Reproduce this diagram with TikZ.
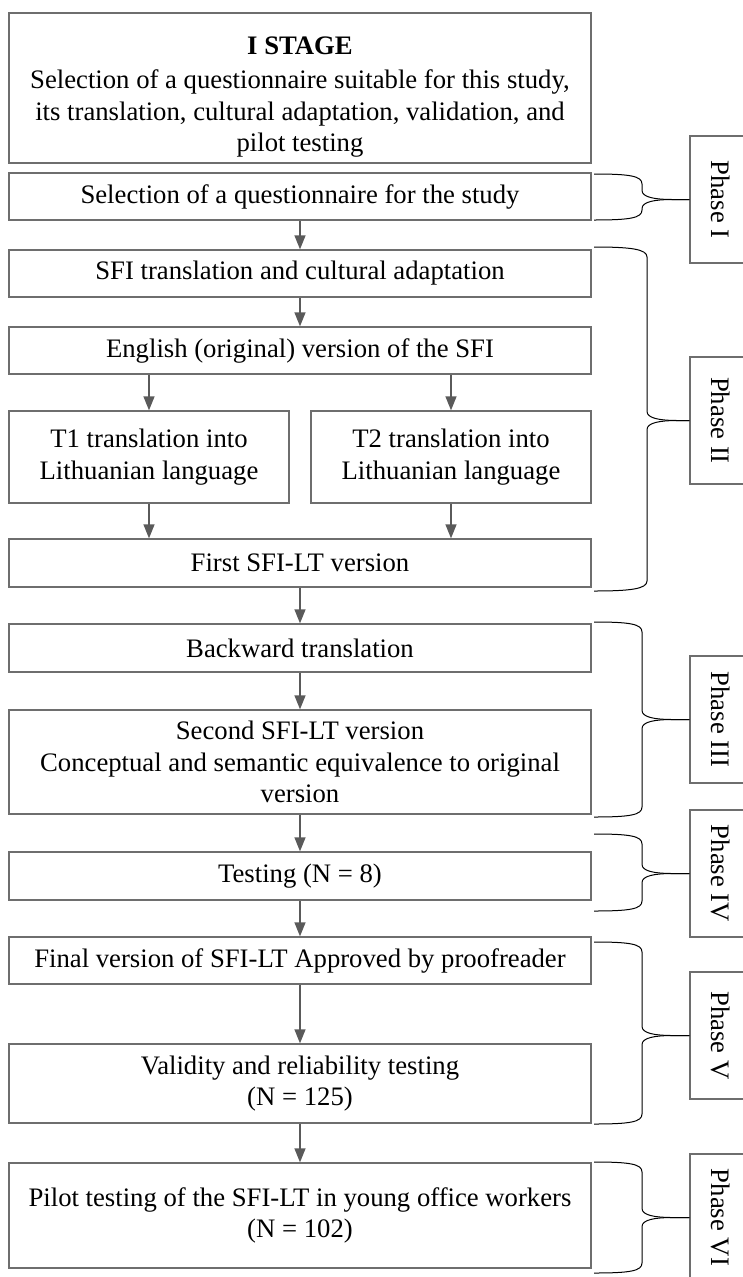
\documentclass[tikz,border=0pt]{standalone}
\usepackage{fontspec}
\setmainfont{Liberation Serif}
\usetikzlibrary{arrows.meta}

\definecolor{boxgray}{HTML}{6E6E6E}
\definecolor{arrowgray}{HTML}{5A5A5A}

% curly brace from a group of steps to its phase label:
% #1 top y, #2 tip y, #3 bottom y, #4 spine x, #5 phase node
\newcommand\phbrace[5]{%
  \draw[bracestyle] (594,#1) .. controls (630,#1) and (#4,#1+2) .. (#4,#1+10)
      -- (#4,#2-9) .. controls (#4,#2-2) and (#4+14,#2) .. (#4+30,#2) -- (#5.south);
  \draw[bracestyle] (#5.south) -- (#4+30,#2) .. controls (#4+14,#2) and (#4,#2+2) .. (#4,#2+9)
      -- (#4,#3-10) .. controls (#4,#3-2) and (630,#3) .. (594,#3);
}

\begin{document}
\begin{tikzpicture}[x=1pt,y=-1pt,
  box/.style={draw=boxgray, line width=1.3pt, inner sep=0pt, align=center,
    font=\fontsize{26.7}{31.5}\selectfont},
  phasebox/.style={draw=boxgray, line width=1.3pt, inner sep=0pt, rotate=-90,
    minimum width=127pt, minimum height=62pt,
    font=\fontsize{26.7}{31.5}\selectfont},
  flow/.style={draw=arrowgray, line width=1.3pt,
    -{Triangle[length=14pt,width=11pt]}},
  bracestyle/.style={draw=black, line width=1pt}]

\useasboundingbox (0,0) rectangle (743,1277);

% main column of steps
\node[box, minimum width=582pt, minimum height=150pt] (s0) at (300,88)
  {\rule{0pt}{36pt}\textbf{I STAGE}\\[3pt]Selection of a questionnaire suitable for this study,\\its translation, cultural adaptation, validation, and\\pilot testing};
\node[box, minimum width=582pt, minimum height=47pt] (s1) at (300,196.5)
  {Selection of a questionnaire for the study};
\node[box, minimum width=582pt, minimum height=47pt] (s2) at (300,273.5)
  {SFI translation and cultural adaptation};
\node[box, minimum width=582pt, minimum height=47pt] (s3) at (300,350.5)
  {English (original) version of the SFI};
\node[box, minimum width=280pt, minimum height=92pt] (t1) at (149,457)
  {T1 translation into\\Lithuanian language};
\node[box, minimum width=280pt, minimum height=92pt] (t2) at (451,457)
  {T2 translation into\\Lithuanian language};
\node[box, minimum width=582pt, minimum height=48pt] (s4) at (300,563)
  {First SFI-LT version};
\node[box, minimum width=582pt, minimum height=48pt] (s5) at (300,648)
  {Backward translation};
\node[box, minimum width=582pt, minimum height=104pt] (s6) at (300,762)
  {Second SFI-LT version\\Conceptual and semantic equivalence to original\\version};
\node[box, minimum width=582pt, minimum height=48pt] (s7) at (300,876)
  {Testing (N = 8)};
\node[box, minimum width=582pt, minimum height=47pt] (s8) at (300,960.5)
  {Final version of SFI-LT Approved by proofreader};
\node[box, minimum width=582pt, minimum height=79pt] (s9) at (300,1083.5)
  {Validity and reliability testing\\(N = 125)};
\node[box, minimum width=582pt, minimum height=105pt] (s10) at (300,1215.5)
  {Pilot testing of the SFI-LT in young office workers\\(N = 102)};

% arrows between steps
\draw[flow] (s1) -- (s2);
\draw[flow] (s2) -- (s3);
\draw[flow] (t1.north |- s3.south) -- (t1.north);
\draw[flow] (t2.north |- s3.south) -- (t2.north);
\draw[flow] (t1.south) -- (t1.south |- s4.north);
\draw[flow] (t2.south) -- (t2.south |- s4.north);
\draw[flow] (s4) -- (s5);
\draw[flow] (s5) -- (s6);
\draw[flow] (s6) -- (s7);
\draw[flow] (s7) -- (s8);
\draw[flow] (s8) -- (s9);
\draw[flow] (s9) -- (s10);

% phase labels
\node[phasebox] (p1) at (721,199.5) {Phase I};
\node[phasebox] (p2) at (721,420.5) {Phase II};
\node[phasebox] (p3) at (721,719.5) {Phase III};
\node[phasebox] (p4) at (721,873.5) {Phase IV};
\node[phasebox] (p5) at (721,1035.5) {Phase V};
\node[phasebox] (p6) at (721,1217.5) {Phase VI};

% braces grouping the steps into phases
\phbrace{174}{199.5}{220}{642}{p1}
\phbrace{247}{420.5}{591}{647}{p2}
\phbrace{622}{719.5}{817}{642}{p3}
\phbrace{834}{873.5}{911}{642}{p4}
\phbrace{942}{1035.5}{1124}{642}{p5}
\phbrace{1162}{1217.5}{1273}{642}{p6}

\end{tikzpicture}
\end{document}
